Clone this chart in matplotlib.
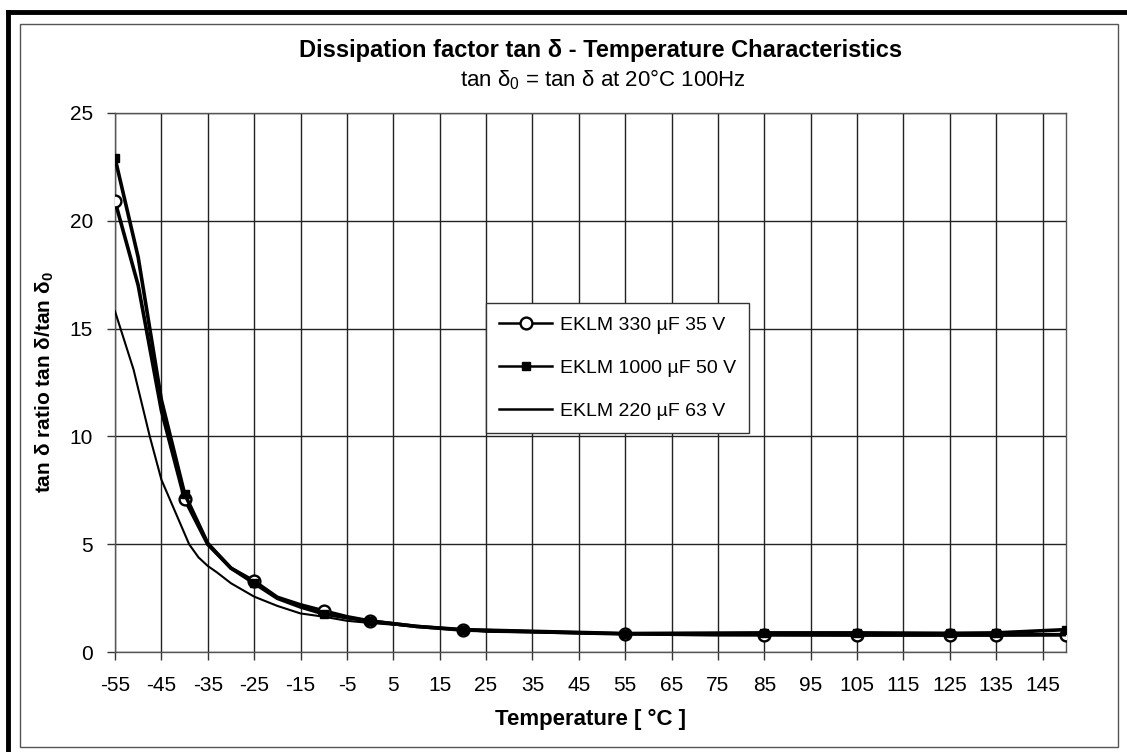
import matplotlib
matplotlib.use("Agg")
import matplotlib.pyplot as plt
from matplotlib.lines import Line2D
from matplotlib.patches import Rectangle

plt.rcParams["font.family"] = ["Liberation Sans", "DejaVu Sans"]
plt.rcParams["axes.unicode_minus"] = False
plt.rcParams["mathtext.fontset"] = "custom"
plt.rcParams["mathtext.rm"] = "Liberation Sans"
plt.rcParams["mathtext.bf"] = "Liberation Sans:bold"
plt.rcParams["mathtext.default"] = "regular"

x_330 = [-55, -50, -45, -40, -35, -30, -25, -20, -15, -10, -5, 0, 10, 20, 55, 85, 105, 125, 135, 150]
y_330 = [20.9, 17.0, 11.2, 7.1, 5.0, 3.9, 3.3, 2.55, 2.2, 1.92, 1.65, 1.45, 1.2, 1.03, 0.85, 0.82, 0.8, 0.8, 0.8, 0.82]
mark_330 = [0, 3, 6, 9, 11, 13, 14, 15, 16, 17, 18, 19]

x_1000 = [-55, -50, -45, -40, -35, -30, -25, -20, -15, -10, -5, 0, 10, 20, 55, 85, 105, 125, 135, 150]
y_1000 = [22.9, 18.3, 11.7, 7.35, 5.05, 3.9, 3.2, 2.5, 2.1, 1.78, 1.6, 1.45, 1.2, 1.05, 0.87, 0.9, 0.9, 0.88, 0.9, 1.05]
mark_1000 = [0, 3, 6, 9, 11, 13, 14, 15, 16, 17, 18, 19]

x_220 = [-55, -51, -47.5, -45, -41, -39, -37, -35, -33, -30, -25, -20, -15, -10, -5, 0, 10, 20, 25, 35, 45, 55, 65, 75, 150]
y_220 = [15.8, 13.1, 10.0, 8.0, 6.0, 5.0, 4.4, 4.0, 3.7, 3.2, 2.58, 2.15, 1.8, 1.65, 1.46, 1.36, 1.2, 1.05, 0.95, 0.92, 0.87, 0.85, 0.8, 0.78, 0.78]

x_ticks = list(range(-55, 150, 10))
y_ticks = [0, 5, 10, 15, 20, 25]

labels = ["EKLM 330 µF 35 V", "EKLM 1000 µF 50 V", "EKLM 220 µF 63 V"]

W, H = 1127, 752
fig = plt.figure(figsize=(W / 100, H / 100), dpi=100)


def fx(px):
    return px / W


def fy(py):
    return 1 - py / H


ax = fig.add_axes([fx(115), fy(652.3), fx(1065.7) - fx(115), fy(112.7) - fy(652.3)])

ax.plot(x_330, y_330, color="black", linewidth=2.6, marker="o", markevery=mark_330,
        markersize=8.5, markerfacecolor="white", markeredgecolor="black", markeredgewidth=1.7,
        label=labels[0], zorder=3)
ax.plot(x_1000, y_1000, color="black", linewidth=2.6, marker="s", markevery=mark_1000,
        markersize=6, markerfacecolor="black", markeredgecolor="black",
        label=labels[1], zorder=4)
ax.plot(x_220, y_220, color="black", linewidth=1.5, label=labels[2], zorder=3)

ax.set_xlim(-55, 150)
ax.set_ylim(0, 25)
ax.set_xticks(x_ticks)
ax.set_yticks(y_ticks)
ax.grid(True, color="#222222", linewidth=1.0)
ax.set_axisbelow(True)
for s in ax.spines.values():
    s.set_color("#555555")
    s.set_linewidth(1.0)
ax.tick_params(direction="out", length=6, width=1, color="#333333", labelsize=15)
ax.tick_params(axis="x", pad=11)
ax.tick_params(axis="y", pad=10)

ax.set_xlabel("Temperature [ °C ]", fontsize=16, fontweight="bold", labelpad=10)
ax.set_ylabel(r"tan δ ratio tan δ/tan $\mathbf{\delta_0}$", fontsize=15, fontweight="bold", labelpad=10)

fig.text(fx(601), fy(50), "Dissipation factor tan δ - Temperature Characteristics",
         fontsize=17, fontweight="bold", ha="center", va="center")
fig.text(fx(603), fy(80), r"tan $\delta_0$ = tan δ at 20°C 100Hz", fontsize=16, ha="center", va="center")

leg = ax.legend(loc="upper left", bbox_to_anchor=(0.39, 0.648), fontsize=14,
                frameon=True, fancybox=False, handlelength=2.7, handletextpad=0.4,
                labelspacing=1.3, borderpad=0.7, borderaxespad=0)
leg.get_frame().set_edgecolor("#333333")
leg.get_frame().set_linewidth(1.0)
leg.get_frame().set_alpha(1.0)
for h in leg.legend_handles:
    h.set_linewidth(1.8)

# page frames
fig.add_artist(Rectangle((fx(20), fy(747)), fx(1118) - fx(20), fy(24) - fy(747),
                         fill=False, edgecolor="#555555", linewidth=1.0))
fig.add_artist(Line2D([fx(8), fx(8)], [fy(12), 0], color="black", linewidth=3.5))
fig.add_artist(Line2D([fx(8), 1], [fy(12), fy(12)], color="black", linewidth=3.5))

fig.savefig("out.png", dpi=100)
